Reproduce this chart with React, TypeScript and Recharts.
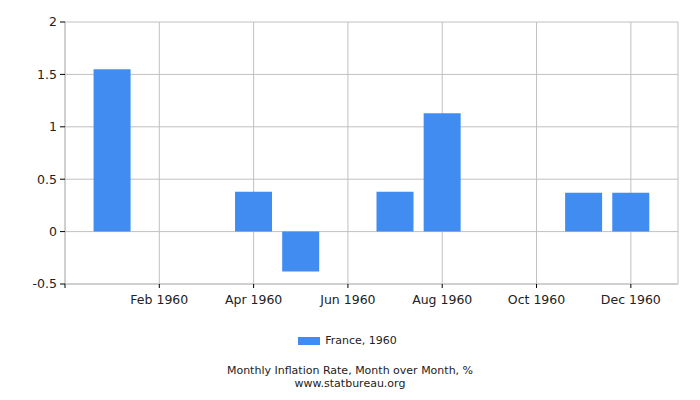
import React from 'react';
import { BarChart, Bar, XAxis, YAxis, CartesianGrid, Legend } from 'recharts';

const MONTH_LABELS = ['Jan 1960', 'Feb 1960', 'Mar 1960', 'Apr 1960', 'May 1960', 'Jun 1960', 'Jul 1960', 'Aug 1960', 'Sep 1960', 'Oct 1960', 'Nov 1960', 'Dec 1960'];
const MONTH_NUMBERS = [1, 2, 3, 4, 5, 6, 7, 8, 9, 10, 11, 12];
const FRANCE_1960 = [1.55, 0, 0, 0.38, -0.38, 0, 0.38, 1.13, 0, 0, 0.37, 0.37];
const X_TICKS = [0, 2, 4, 6, 8, 10, 12];
const Y_TICKS = [-0.5, 0, 0.5, 1, 1.5, 2];
const SERIES_NAME = 'France, 1960';
const TITLE = 'Monthly Inflation Rate, Month over Month, %';
const SOURCE = 'www.statbureau.org';

const data = MONTH_NUMBERS.map((m, i) => ({ m, label: MONTH_LABELS[i], v: FRANCE_1960[i] }));

const FONT = '"DejaVu Sans", sans-serif';
const BLUE = '#418CF0';
const GRID = '#c0c0c0';

const LegendContent = () => (
  <div style={{ display: 'flex', justifyContent: 'center', alignItems: 'center', fontFamily: FONT, fontSize: 11, lineHeight: '12px', color: '#222', height: 12, paddingRight: 5 }}>
    <span style={{ display: 'inline-block', width: 22, height: 8, background: BLUE, marginRight: 5 }} />
    <span>{SERIES_NAME}</span>
  </div>
);

export default function App() {
  return (
    <div style={{ position: 'absolute', left: 0, top: 0, width: 700, height: 400, background: '#fff' }}>
      <BarChart width={700} height={400} data={data} margin={{ top: 22, right: 22, left: 0, bottom: 74 }}>
        <CartesianGrid stroke={GRID} strokeWidth={1} />
        <XAxis
          dataKey="m"
          type="number"
          domain={[0, 13]}
          ticks={X_TICKS}
          tickFormatter={(v) => (v === 0 ? '' : MONTH_LABELS[v - 1])}
          height={30}
          tickSize={4}
          tickMargin={7}
          axisLine={{ stroke: GRID }}
          tickLine={{ stroke: '#000' }}
          tick={{ fill: '#222', fontSize: 12.5, fontFamily: FONT }}
          interval={0}
        />
        <YAxis
          domain={[-0.5, 2]}
          ticks={Y_TICKS}
          width={65}
          tickSize={5}
          tickMargin={3}
          axisLine={{ stroke: GRID }}
          tickLine={{ stroke: '#000' }}
          tick={{ fill: '#222', fontSize: 12.5, fontFamily: FONT }}
          interval={0}
        />
        <YAxis
          yAxisId="r"
          orientation="right"
          domain={[-0.5, 2]}
          width={0}
          tick={false}
          tickLine={false}
          axisLine={{ stroke: GRID }}
        />
        <Legend content={<LegendContent />} wrapperStyle={{ position: 'absolute', top: 335, left: 0, width: 700, height: 12 }} />
        <Bar dataKey="v" name={SERIES_NAME} fill={BLUE} barSize={37} isAnimationActive={false} />
      </BarChart>
      <div style={{ position: 'absolute', top: 364, left: 0, width: 700, textAlign: 'center', fontFamily: FONT, fontSize: 11, lineHeight: '13px', color: '#222' }}>
        <div>{TITLE}</div>
        <div>{SOURCE}</div>
      </div>
    </div>
  );
}
